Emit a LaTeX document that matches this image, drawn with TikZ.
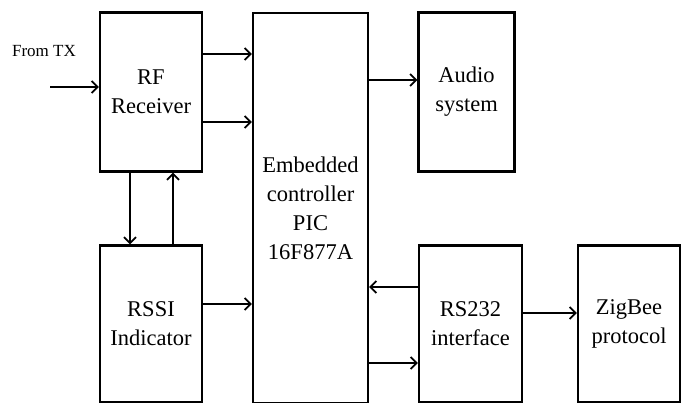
\documentclass[tikz,border=0pt]{standalone}
\usepackage{fontspec}
\setmainfont{Liberation Serif}
\usetikzlibrary{arrows.meta}
\begin{document}
\begin{tikzpicture}[x=1pt,y=-1pt,
  block/.style={draw,line width=2.2pt,inner sep=0pt,align=center,
    font=\fontsize{22.5}{29}\selectfont},
  link/.style={line width=2.2pt,-{Straight Barb[length=6pt,width=12pt,line width=1.8pt]}}]
\useasboundingbox (0,0) rectangle (687,403);
% blocks (centre, width, height in pixel units)
\node[block,minimum width=102pt,minimum height=159pt] (rf) at (151,92) {RF\\Receiver};
\node[block,minimum width=102pt,minimum height=157pt] (rssi) at (151,324) {RSSI\\Indicator};
\node[block,minimum width=115pt,minimum height=390pt] (ec) at (310.5,208) {Embedded\\controller\\PIC\\16F877A};
\node[block,minimum width=96pt,minimum height=159pt] (audio) at (466.5,92) {Audio\\system};
\node[block,minimum width=103pt,minimum height=157pt] (rs) at (470.5,324) {RS232\\interface};
\node[block,minimum width=102pt,minimum height=157pt] (zb) at (629,324) {ZigBee\\protocol};
% input label and its free end
\node[font=\fontsize{17}{19}\selectfont,inner sep=0pt] (tx) at (44,51) {From TX};
\coordinate (in) at (50,87);
% connectors
\draw[link] (in) -- (in -| rf.west);
\draw[link] (rf.east |- 0,54) -- (ec.west |- 0,54);
\draw[link] (rf.east |- 0,122) -- (ec.west |- 0,122);
\draw[link] (rf.south -| 130,0) -- (rssi.north -| 130,0);
\draw[link] (rssi.north -| 173,0) -- (rf.south -| 173,0);
\draw[link] (rssi.east |- 0,304) -- (ec.west |- 0,304);
\draw[link] (ec.east |- 0,80) -- (audio.west |- 0,80);
\draw[link] (rs.west |- 0,287) -- (ec.east |- 0,287);
\draw[link] (ec.east |- 0,363) -- (rs.west |- 0,363);
\draw[link] (rs.east |- 0,313) -- (zb.west |- 0,313);
\end{tikzpicture}
\end{document}
